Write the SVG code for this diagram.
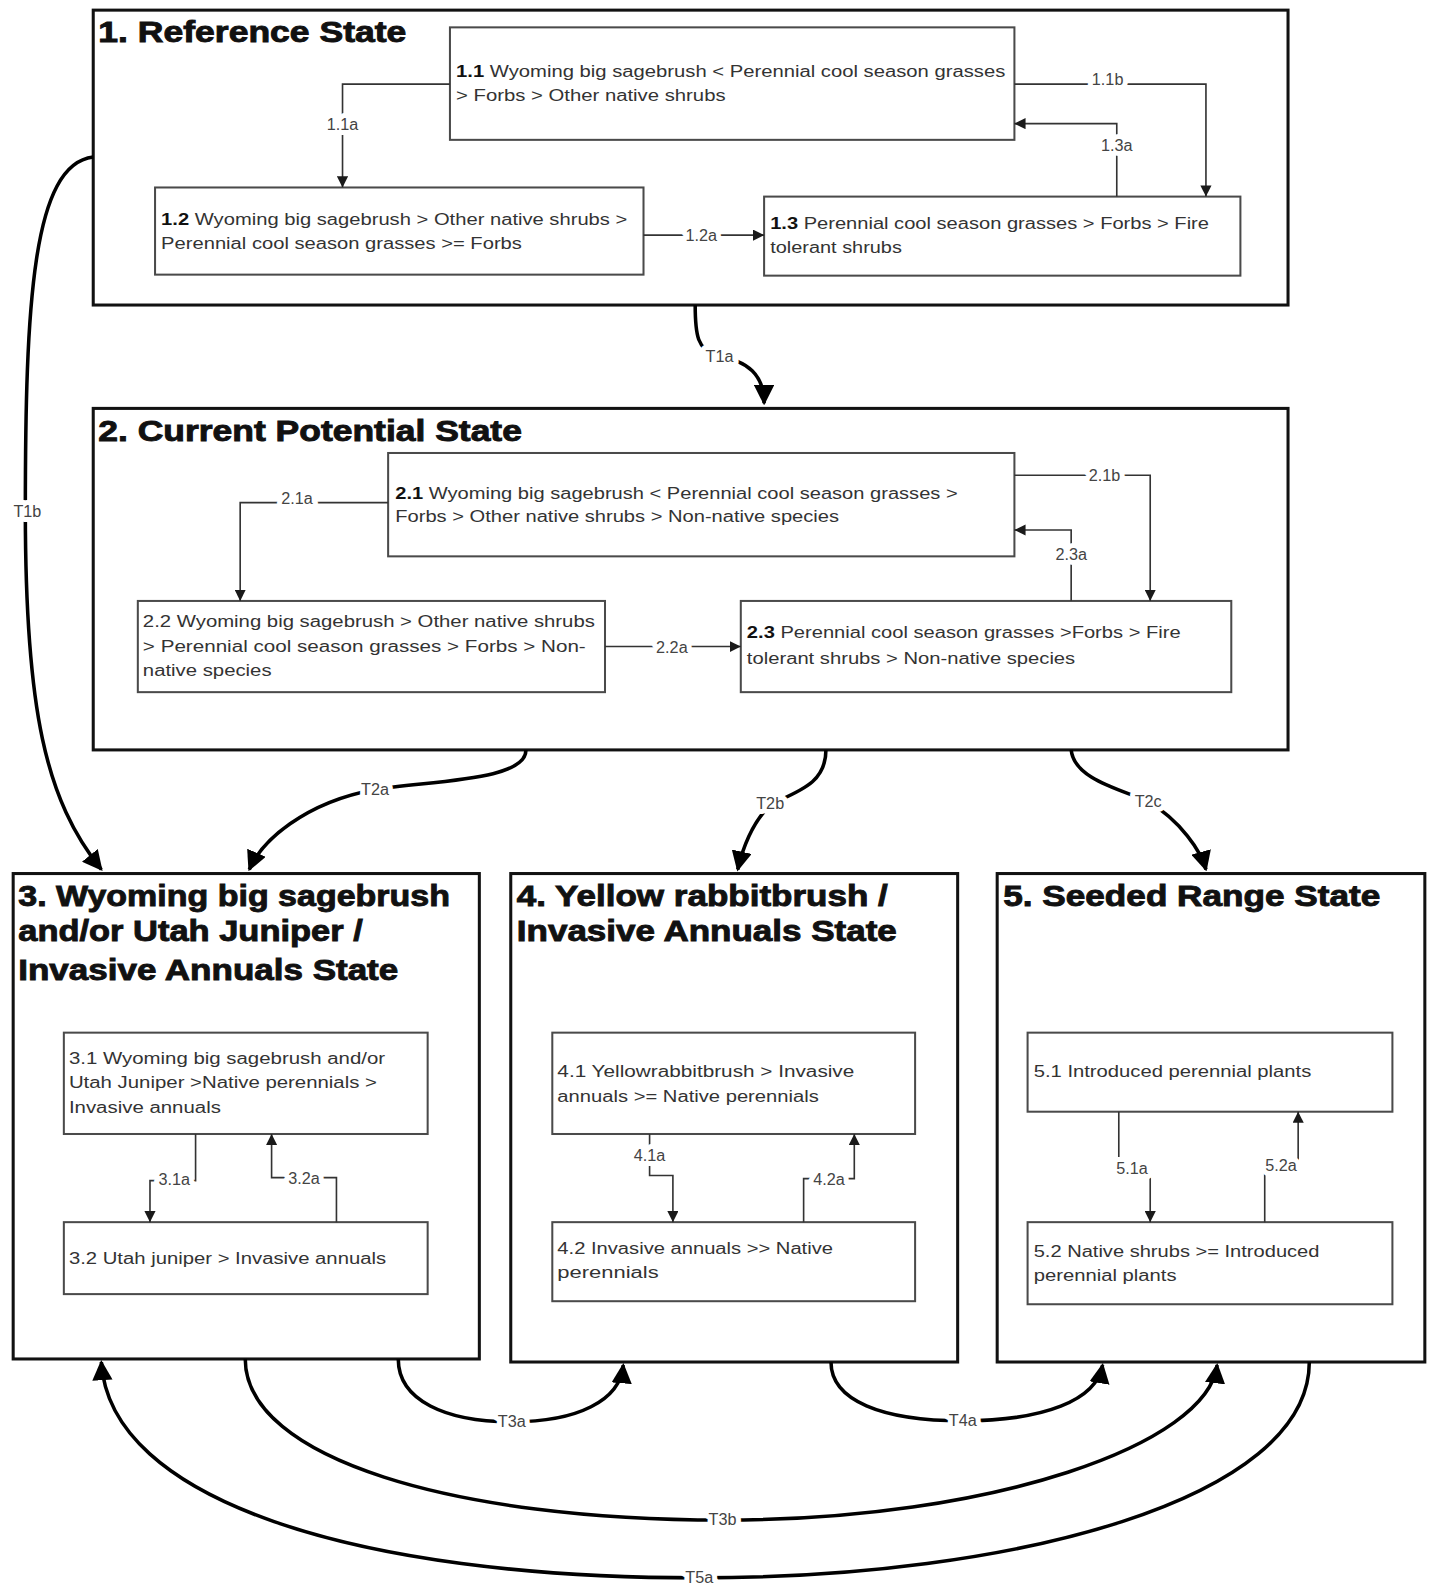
<svg xmlns="http://www.w3.org/2000/svg" width="1431" height="1589" viewBox="0 0 1431 1589">
<defs>
<marker id="ah" viewBox="0 0 10 10" refX="10" refY="5" markerWidth="11" markerHeight="11" markerUnits="userSpaceOnUse" orient="auto"><path d="M0,0 L10,5 L0,10 z" fill="#1a1a1a"/></marker>
<marker id="ahb" viewBox="0 0 10 10" refX="9" refY="5" markerWidth="20" markerHeight="20" markerUnits="userSpaceOnUse" orient="auto"><path d="M0,0 L10,5 L0,10 z" fill="#000"/></marker>
</defs>
<style>
.state{fill:#fff;stroke:#111;stroke-width:3}
.sub{fill:#fff;stroke:#4a4a4a;stroke-width:2}
.title{font-family:"Liberation Sans",Arial,sans-serif;font-weight:bold;font-size:29px;fill:#111;stroke:#111;stroke-width:0.9}
.t{font-family:"Liberation Sans",Arial,sans-serif;font-size:17px;fill:#333}
.t tspan.b{font-weight:bold;fill:#111}
.c{fill:none;stroke:#333;stroke-width:1.6;marker-end:url(#ah)}
.tc{fill:none;stroke:#000;stroke-width:3.5;marker-end:url(#ahb)}
.lb{font-family:"Liberation Sans",Arial,sans-serif;font-size:16px;fill:#444;text-anchor:middle;stroke:#fff;stroke-width:10;paint-order:stroke;stroke-linejoin:round}
</style>
<rect width="1431" height="1589" fill="#fff"/>
<g transform="scale(1.0134)">
<g id="state1">
<rect class="state" x="92" y="10" width="1179" height="291"/>
<text class="title" x="97" y="41" textLength="304" lengthAdjust="spacingAndGlyphs">1. Reference State</text>
</g>
<g id="n1_1">
<rect class="sub" x="444" y="27" width="557" height="111"/>
<text class="t" x="450" y="76" textLength="542" lengthAdjust="spacingAndGlyphs"><tspan class="b">1.1</tspan> Wyoming big sagebrush &lt; Perennial cool season grasses</text>
<text class="t" x="450" y="100" textLength="266" lengthAdjust="spacingAndGlyphs">&gt; Forbs &gt; Other native shrubs</text>
</g>
<g id="n1_2">
<rect class="sub" x="153" y="185" width="482" height="86"/>
<text class="t" x="159" y="222" textLength="460" lengthAdjust="spacingAndGlyphs"><tspan class="b">1.2</tspan> Wyoming big sagebrush &gt; Other native shrubs &gt;</text>
<text class="t" x="159" y="246" textLength="356" lengthAdjust="spacingAndGlyphs">Perennial cool season grasses &gt;= Forbs</text>
</g>
<g id="n1_3">
<rect class="sub" x="754" y="194" width="470" height="78"/>
<text class="t" x="760" y="226" textLength="433" lengthAdjust="spacingAndGlyphs"><tspan class="b">1.3</tspan> Perennial cool season grasses &gt; Forbs &gt; Fire</text>
<text class="t" x="760" y="250" textLength="130" lengthAdjust="spacingAndGlyphs">tolerant shrubs</text>
</g>
<g id="state2">
<rect class="state" x="92" y="403" width="1179" height="337"/>
<text class="title" x="97" y="435" textLength="418" lengthAdjust="spacingAndGlyphs">2. Current Potential State</text>
</g>
<g id="n2_1">
<rect class="sub" x="383" y="447" width="618" height="102"/>
<text class="t" x="390" y="492" textLength="555" lengthAdjust="spacingAndGlyphs"><tspan class="b">2.1</tspan> Wyoming big sagebrush &lt; Perennial cool season grasses &gt;</text>
<text class="t" x="390" y="515" textLength="438" lengthAdjust="spacingAndGlyphs">Forbs &gt; Other native shrubs &gt; Non-native species</text>
</g>
<g id="n2_2">
<rect class="sub" x="136" y="593" width="461" height="90"/>
<text class="t" x="141" y="619" textLength="446" lengthAdjust="spacingAndGlyphs">2.2 Wyoming big sagebrush &gt; Other native shrubs</text>
<text class="t" x="141" y="643" textLength="437" lengthAdjust="spacingAndGlyphs">&gt; Perennial cool season grasses &gt; Forbs  &gt; Non-</text>
<text class="t" x="141" y="667" textLength="127" lengthAdjust="spacingAndGlyphs">native species</text>
</g>
<g id="n2_3">
<rect class="sub" x="731" y="593" width="484" height="90"/>
<text class="t" x="737" y="630" textLength="428" lengthAdjust="spacingAndGlyphs"><tspan class="b">2.3</tspan> Perennial cool season grasses &gt;Forbs &gt; Fire</text>
<text class="t" x="737" y="655" textLength="324" lengthAdjust="spacingAndGlyphs">tolerant shrubs &gt; Non-native species</text>
</g>
<g id="state3">
<rect class="state" x="13" y="862" width="460" height="479" stroke-width="2.2"/>
<text class="title" x="18" y="894" textLength="426" lengthAdjust="spacingAndGlyphs">3. Wyoming big sagebrush</text>
<text class="title" x="18" y="929" textLength="340" lengthAdjust="spacingAndGlyphs">and/or Utah Juniper /</text>
<text class="title" x="18" y="967" textLength="375" lengthAdjust="spacingAndGlyphs">Invasive Annuals State</text>
</g>
<g id="n3_1">
<rect class="sub" x="63" y="1019" width="359" height="100"/>
<text class="t" x="68" y="1050" textLength="312" lengthAdjust="spacingAndGlyphs">3.1 Wyoming big sagebrush and/or</text>
<text class="t" x="68" y="1074" textLength="304" lengthAdjust="spacingAndGlyphs">Utah Juniper &gt;Native perennials &gt;</text>
<text class="t" x="68" y="1098" textLength="150" lengthAdjust="spacingAndGlyphs">Invasive annuals</text>
</g>
<g id="n3_2">
<rect class="sub" x="63" y="1206" width="359" height="71"/>
<text class="t" x="68" y="1247" textLength="313" lengthAdjust="spacingAndGlyphs">3.2 Utah juniper &gt; Invasive annuals</text>
</g>
<g id="state4">
<rect class="state" x="504" y="862" width="441" height="482" stroke-width="2.2"/>
<text class="title" x="510" y="894" textLength="366" lengthAdjust="spacingAndGlyphs">4. Yellow rabbitbrush /</text>
<text class="title" x="510" y="929" textLength="375" lengthAdjust="spacingAndGlyphs">Invasive Annuals State</text>
</g>
<g id="n4_1">
<rect class="sub" x="545" y="1019" width="358" height="100"/>
<text class="t" x="550" y="1063" textLength="293" lengthAdjust="spacingAndGlyphs">4.1 Yellowrabbitbrush &gt; Invasive</text>
<text class="t" x="550" y="1087" textLength="258" lengthAdjust="spacingAndGlyphs">annuals &gt;= Native perennials</text>
</g>
<g id="n4_2">
<rect class="sub" x="545" y="1206" width="358" height="78"/>
<text class="t" x="550" y="1237" textLength="272" lengthAdjust="spacingAndGlyphs">4.2 Invasive annuals &gt;&gt; Native</text>
<text class="t" x="550" y="1261" textLength="100" lengthAdjust="spacingAndGlyphs">perennials</text>
</g>
<g id="state5">
<rect class="state" x="984" y="862" width="422" height="482" stroke-width="2.2"/>
<text class="title" x="990" y="894" textLength="372" lengthAdjust="spacingAndGlyphs">5. Seeded Range State</text>
</g>
<g id="n5_1">
<rect class="sub" x="1014" y="1019" width="360" height="78"/>
<text class="t" x="1020" y="1063" textLength="274" lengthAdjust="spacingAndGlyphs">5.1 Introduced perennial plants</text>
</g>
<g id="n5_2">
<rect class="sub" x="1014" y="1206" width="360" height="81"/>
<text class="t" x="1020" y="1240" textLength="282" lengthAdjust="spacingAndGlyphs">5.2 Native shrubs &gt;= Introduced</text>
<text class="t" x="1020" y="1264" textLength="141" lengthAdjust="spacingAndGlyphs">perennial plants</text>
</g>
<g id="connectors">
<path class="c" d="M444,83 H338 V185"/>
<path class="c" d="M1001,83 H1190 V194"/>
<path class="c" d="M1102,194 V122 H1001"/>
<path class="c" d="M635,232 H754"/>
<path class="c" d="M383,496 H237 V593"/>
<path class="c" d="M1001,469 H1135 V593"/>
<path class="c" d="M1057,593 V523 H1001"/>
<path class="c" d="M597,638 H731"/>
<path class="c" d="M193,1119 V1165 H148 V1206"/>
<path class="c" d="M332,1206 V1162 H268 V1119"/>
<path class="c" d="M641,1119 V1160 H664 V1206"/>
<path class="c" d="M793,1206 V1163 H843 V1119"/>
<path class="c" d="M1104,1097 V1152 H1135 V1206"/>
<path class="c" d="M1248,1206 V1150 H1281 V1097"/>
<path class="tc" d="M686,301 C686,330 688,346 708,351 C738,356 754,370 754,398"/>
<path class="tc" d="M92,155 C32,162 25,300 25,505 C25,700 45,790 100,858"/>
<path class="tc" d="M519,740 C519,770 430,770 370,779 C300,792 258,830 246,858"/>
<path class="tc" d="M815,740 C815,772 790,780 762,793 C742,810 732,840 728,858"/>
<path class="tc" d="M1057,740 C1060,770 1110,780 1133,791 C1165,810 1185,840 1190,858"/>
<path class="tc" d="M393,1341 C393,1382 440,1403 505,1403 C570,1403 612,1382 615,1347"/>
<path class="tc" d="M242,1341 C242,1440 450,1500 713,1500 C980,1500 1192,1425 1201,1347"/>
<path class="tc" d="M820,1344 C820,1382 870,1402 950,1402 C1030,1402 1082,1382 1088,1347"/>
<path class="tc" d="M1292,1344 C1292,1480 1000,1557 690,1557 C350,1557 108,1480 100,1344"/>
<text class="lb" x="338" y="128">1.1a</text>
<text class="lb" x="1093" y="84">1.1b</text>
<text class="lb" x="1102" y="149">1.3a</text>
<text class="lb" x="692" y="238">1.2a</text>
<text class="lb" x="293" y="497">2.1a</text>
<text class="lb" x="1090" y="475">2.1b</text>
<text class="lb" x="1057" y="553">2.3a</text>
<text class="lb" x="663" y="644">2.2a</text>
<text class="lb" x="172" y="1169">3.1a</text>
<text class="lb" x="300" y="1168">3.2a</text>
<text class="lb" x="641" y="1146">4.1a</text>
<text class="lb" x="818" y="1169">4.2a</text>
<text class="lb" x="1117" y="1158">5.1a</text>
<text class="lb" x="1264" y="1156">5.2a</text>
<text class="lb" x="710" y="357">T1a</text>
<text class="lb" x="27" y="510">T1b</text>
<text class="lb" x="370" y="784">T2a</text>
<text class="lb" x="760" y="798">T2b</text>
<text class="lb" x="1133" y="796">T2c</text>
<text class="lb" x="505" y="1408">T3a</text>
<text class="lb" x="713" y="1505">T3b</text>
<text class="lb" x="950" y="1407">T4a</text>
<text class="lb" x="690" y="1562">T5a</text>
</g>
</g>
</svg>
